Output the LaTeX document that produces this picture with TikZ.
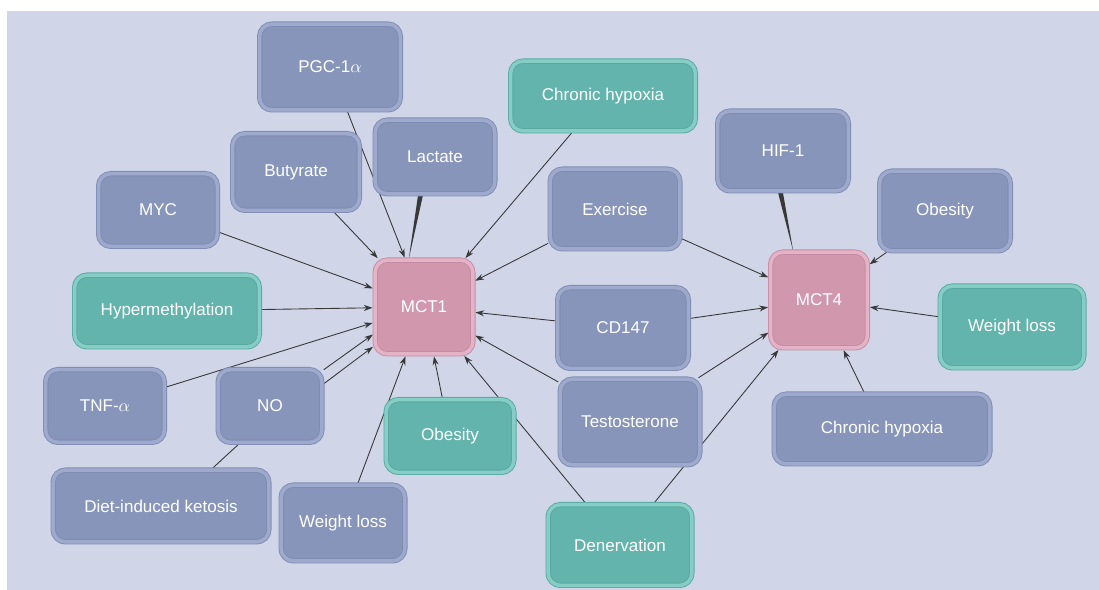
\documentclass[tikz,border=0pt]{standalone}
\usepackage{fontspec}
\setmainfont{Liberation Sans}
\usetikzlibrary{arrows.meta, calc}

\definecolor{panelcol}{HTML}{D0D5E8}
\definecolor{edgecol}{HTML}{383838}
\definecolor{bluefill}{HTML}{8795BA}
\definecolor{bluerim}{HTML}{9EAACD}
\definecolor{blueout}{HTML}{7F8CB2}
\definecolor{tealfill}{HTML}{62B4AC}
\definecolor{tealrim}{HTML}{86CEC5}
\definecolor{tealout}{HTML}{57A9A1}
\definecolor{pinkfill}{HTML}{D197AD}
\definecolor{pinkrim}{HTML}{E4B3C5}
\definecolor{pinkout}{HTML}{C48CA2}

\pgfdeclarelayer{panel}
\pgfdeclarelayer{edges}
\pgfsetlayers{panel,edges,main}

\tikzset{
  box/.style={rectangle, rounded corners=7pt, line width=0.5pt, double distance=2pt,
    text=white, inner sep=0pt, font=\fontsize{9.7}{11}\selectfont},
  sz/.style 2 args={minimum width=#1*0.02cm-3pt, minimum height=#2*0.02cm-3pt},
  factor/.style={box, draw=blueout, double=bluerim, fill=bluefill},
  cond/.style={box, draw=tealout, double=tealrim, fill=tealfill},
  carrier/.style={box, draw=pinkout, double=pinkrim, fill=pinkfill},
  edge/.style={edgecol, line width=0.5pt, shorten >=1.2pt, shorten <=1pt}
}

\begin{document}
\begin{tikzpicture}[x=0.02cm, y=-0.02cm, >={Stealth[length=5pt, width=3.4pt]}]
\useasboundingbox (0,0) rectangle (1099,590);
\begin{pgfonlayer}{panel}
\fill[white] (0,0) rectangle (1099,590);
\fill[panelcol] (7,11) rectangle (1099,590);
\end{pgfonlayer}

% MCT1 side
\path (330,67) node[factor, sz={146}{91}] (pgc) {PGC-1$\alpha$}
      (296,172) node[factor, sz={132}{82}] (but) {Butyrate}
      (158,210) node[factor, sz={124}{78}] (myc) {MYC}
      (435,157) node[factor, sz={125}{79}] (lac) {Lactate}
      (603,96) node[cond, sz={190}{75}] (chx) {Chronic hypoxia}
      (424,307) node[carrier, sz={103}{99}] (mct1) {MCT1}
      (167,311) node[cond, sz={190}{77}] (hyp) {Hypermethylation}
      (105,406) node[factor, sz={124}{78}] (tnf) {TNF-$\alpha$}
      (270,406) node[factor, sz={109}{78}] (no) {NO}
      (161,506) node[factor, sz={221}{77}] (dik) {Diet-induced ketosis}
      (343,523) node[factor, sz={129}{81}] (wlb) {Weight loss}
      (450,436) node[cond, sz={133}{78}] (obt) {Obesity};

% shared
\path (615,209) node[factor, sz={135}{85}] (exe) {Exercise}
      (623,328) node[factor, sz={136}{86}] (cd) {CD147}
      (630,422) node[factor, sz={145}{91}] (tes) {Testosterone}
      (620,545) node[cond, sz={149}{86}] (den) {Denervation};

% MCT4 side
\path (783,151) node[factor, sz={136}{85}] (hif) {HIF-1}
      (945,211) node[factor, sz={136}{85}] (obb) {Obesity}
      (819,300) node[carrier, sz={102}{101}] (mct4) {MCT4}
      (1012,327) node[cond, sz={149}{87}] (wlt) {Weight loss}
      (882,429) node[factor, sz={221}{75}] (chb) {Chronic hypoxia};

\begin{pgfonlayer}{edges}
\draw[edge, ->] (pgc) to (mct1);
\draw[edge, ->] (but) to (mct1);
\draw[edge, ->] (myc) to (mct1);
\fill[edgecol] ($(lac.249)+(-2.5,0)$) -- ($(lac.249)+(2.5,0)$) -- (mct1.108) -- cycle;
\draw[edge, ->] (chx) to (mct1);
\draw[edge, ->] (exe) to (mct1);
\draw[edge, ->] (hyp) to (mct1);
\draw[edge, ->] (tnf) to (mct1);
\draw[edge, ->] (no.34) to (mct1.208);
\draw[edge, ->] (no.22) to (mct1.218);
\draw[edge] (dik.36) to (no.231);
\draw[edge, ->] (wlb) to (mct1);
\draw[edge, ->] (obt) to (mct1);
\draw[edge, ->] (cd) to (mct1);
\draw[edge, ->] (tes) to (mct1);
\draw[edge, ->] (den) to (mct1);

\draw[edge, ->] (exe) to (mct4);
\draw[edge, ->] (cd) to (mct4);
\draw[edge, ->] (tes) to (mct4);
\draw[edge, ->] (den) to (mct4);
\fill[edgecol] ($(hif.266)+(-2.5,0)$) -- ($(hif.266)+(2.5,0)$) -- (mct4.118) -- cycle;
\draw[edge, ->] (obb) to (mct4);
\draw[edge, ->] (wlt) to (mct4);
\draw[edge, ->] (chb) to (mct4);
\end{pgfonlayer}

\end{tikzpicture}
\end{document}
